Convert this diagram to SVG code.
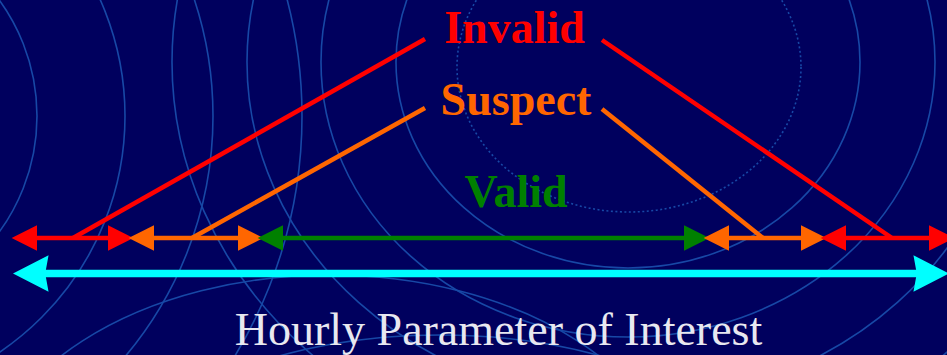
<svg xmlns="http://www.w3.org/2000/svg" width="947" height="355" viewBox="0 0 947 355">
  <defs>
    <style>
      .bg { fill: none; stroke: #1748a6; stroke-width: 1.6; }
      .dot { stroke-dasharray: 2 2.5; }
      .lbl { font-family: "Liberation Serif", "Times New Roman", serif; font-weight: bold; font-size: 46px; text-anchor: middle; }
      .seg { stroke-width: 4.5; fill: none; }
      .lead { stroke-width: 4.5; fill: none; stroke-linecap: butt; }
    </style>
    <marker id="mRed" markerUnits="userSpaceOnUse" markerWidth="30" markerHeight="30" refX="0" refY="0" viewBox="-2 -12 26 24" orient="auto-start-reverse">
      <path d="M0,-11 L22,0 L0,11 Z" fill="#ff0000"/>
    </marker>
    <marker id="mOrange" markerUnits="userSpaceOnUse" markerWidth="30" markerHeight="30" refX="0" refY="0" viewBox="-2 -12 26 24" orient="auto-start-reverse">
      <path d="M0,-11 L22,0 L0,11 Z" fill="#ff6600"/>
    </marker>
    <marker id="mGreen" markerUnits="userSpaceOnUse" markerWidth="30" markerHeight="30" refX="0" refY="0" viewBox="-2 -12 26 24" orient="auto-start-reverse">
      <path d="M0,-11 L22,0 L0,11 Z" fill="#008000"/>
    </marker>
    <marker id="mCyan" markerUnits="userSpaceOnUse" markerWidth="40" markerHeight="40" refX="0" refY="0" viewBox="-14 -18 36 36" orient="auto-start-reverse">
      <path d="M-11,0 L-14,-16.5 L18,0 L-14,16.5 Z" fill="#00ffff"/>
    </marker>
  </defs>

  <rect x="0" y="0" width="947" height="355" fill="#00005e"/>

  <g id="background">
    <circle class="bg" cx="-160" cy="116" r="197"/>
    <circle class="bg" cx="-160" cy="116" r="285"/>
    <circle class="bg" cx="-160" cy="116" r="373"/>
    <circle class="bg" cx="-160" cy="116" r="462"/>
    <ellipse class="bg" cx="628" cy="62" rx="232" ry="206"/>
    <ellipse class="bg" cx="628" cy="62" rx="307" ry="275"/>
    <ellipse class="bg" cx="628" cy="62" rx="381" ry="340"/>
    <ellipse class="bg" cx="628" cy="62" rx="456" ry="406"/>
    <ellipse class="bg dot" cx="629" cy="67" rx="172" ry="145"/>
    <ellipse class="bg" cx="330" cy="500" rx="350" ry="225"/>
    <ellipse class="bg" cx="440" cy="470" rx="300" ry="135"/>
  </g>

  <g id="connectors">
    <line class="seg" x1="37" y1="238" x2="108" y2="238" stroke="#ff0000" marker-start="url(#mRed)" marker-end="url(#mRed)"/>
    <line class="seg" x1="154" y1="238" x2="238" y2="238" stroke="#ff6600" marker-start="url(#mOrange)" marker-end="url(#mOrange)"/>
    <line class="seg" x1="283" y1="238" x2="684" y2="238" stroke="#008000" marker-start="url(#mGreen)" marker-end="url(#mGreen)"/>
    <line class="seg" x1="729" y1="238" x2="801" y2="238" stroke="#ff6600" marker-start="url(#mOrange)" marker-end="url(#mOrange)"/>
    <line class="seg" x1="846" y1="238" x2="929" y2="238" stroke="#ff0000" marker-start="url(#mRed)" marker-end="url(#mRed)"/>
    <line x1="33" y1="273.5" x2="929" y2="273.5" stroke="#00ffff" stroke-width="7.5" marker-start="url(#mCyan)" marker-end="url(#mCyan)"/>
    <line class="lead" x1="73" y1="238" x2="425" y2="39" stroke="#ff0000"/>
    <line class="lead" x1="602" y1="40" x2="892" y2="238" stroke="#ff0000"/>
    <line class="lead" x1="192" y1="238" x2="425" y2="108" stroke="#ff6600"/>
    <line class="lead" x1="602" y1="109" x2="763" y2="238" stroke="#ff6600"/>
  </g>

  <g id="invalid">
    <text class="lbl" x="514.5" y="43" fill="#ff0000" font-size="47">Invalid</text>
  </g>
  <g id="suspect">
    <text class="lbl" x="516" y="115" fill="#ff6600" font-size="47">Suspect</text>
  </g>
  <g id="valid">
    <text class="lbl" x="516" y="207" fill="#008000">Valid</text>
  </g>
  <g id="axis-label">
    <text x="498.5" y="345" font-family="'Liberation Serif', 'Times New Roman', serif" font-size="46" text-anchor="middle" fill="#e8e8f0">Hourly Parameter of Interest</text>
  </g>
</svg>
